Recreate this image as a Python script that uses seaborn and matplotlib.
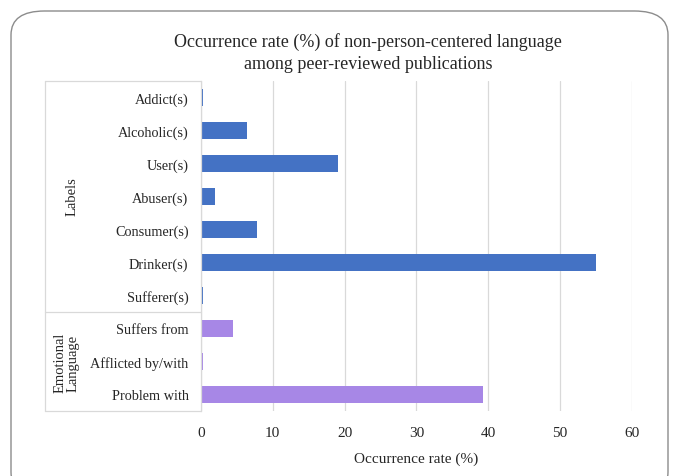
import matplotlib
matplotlib.use("Agg")
import matplotlib.pyplot as plt
from matplotlib.patches import FancyBboxPatch
import pandas as pd
import seaborn as sns

terms = [
    "Addict(s)", "Alcoholic(s)", "User(s)", "Abuser(s)", "Consumer(s)",
    "Drinker(s)", "Sufferer(s)", "Suffers from", "Afflicted by/with", "Problem with",
]
rates = [0.3, 6.4, 19.1, 2.0, 7.8, 55.0, 0.3, 4.4, 0.3, 39.3]
groups = ["Labels"] * 7 + ["Emotional Language"] * 3
group_colors = {"Labels": "#4472C4", "Emotional Language": "#A787E6"}
x_ticks = [0, 10, 20, 30, 40, 50, 60]

df = pd.DataFrame({"term": terms, "rate": rates, "group": groups})

sns.set_style("white")
plt.rcParams["font.family"] = ["Liberation Serif", "DejaVu Serif"]

W, H = 673, 477
fig = plt.figure(figsize=(W / 100, H / 100), dpi=100)

# rounded outer frame
frame = FancyBboxPatch(
    (11 / W, -20 / H), (668 - 11) / W, (H + 8) / H,
    boxstyle="round,pad=0,rounding_size=0.05",
    transform=fig.transFigure, facecolor="none", edgecolor="#8c8c8c",
    linewidth=1.0, zorder=-5,
)
fig.patches.append(frame)

left, right, top, bottom = 201, 632, 82, 412
ax = fig.add_axes([left / W, 1 - bottom / H, (right - left) / W, (bottom - top) / H])
ax.patch.set_alpha(0)

sns.barplot(
    data=df, y="term", x="rate", hue="group", palette=group_colors,
    orient="h", width=0.5, dodge=False, legend=False, ax=ax,
    edgecolor="none", saturation=1,
)

ax.set_xlim(0, 60.05)
ax.set_ylim(len(terms) - 0.5, -0.5)
ax.set_xticks(x_ticks)
ax.xaxis.grid(True, color="#d9d9d9", linewidth=0.9)
ax.set_axisbelow(True)
for side in ["top", "right", "bottom"]:
    ax.spines[side].set_visible(False)
ax.spines["left"].set_color("#d9d9d9")
ax.spines["left"].set_linewidth(0.9)
ax.tick_params(axis="y", length=0, pad=9, labelsize=10.3)
ax.tick_params(axis="x", length=0, pad=11, labelsize=11)
ax.set_ylabel("")
ax.set_xlabel("Occurrence rate (%)", fontsize=11, labelpad=9)

fig.text(368 / W, 1 - 53 / H,
         "Occurrence rate (%) of non-person-centered language\namong peer-reviewed publications",
         ha="center", va="center", fontsize=13, linespacing=1.45)

# category table lines
tx0 = 45
line_kw = dict(color="#d9d9d9", linewidth=0.9, transform=fig.transFigure)
for yy in [top, 313, bottom]:
    fig.add_artist(plt.Line2D([tx0 / W, left / W], [1 - yy / H, 1 - yy / H], **line_kw))
fig.add_artist(plt.Line2D([tx0 / W, tx0 / W], [1 - top / H, 1 - bottom / H], **line_kw))

# group labels
fig.text(72 / W, 1 - 197 / H, "Labels", rotation=90, ha="center", va="center", fontsize=10.5)
fig.text(67 / W, 1 - 363 / H, "Emotional\nLanguage", rotation=90, ha="center", va="center",
         fontsize=10.5, linespacing=1.0)

fig.savefig("out.png", dpi=100)
